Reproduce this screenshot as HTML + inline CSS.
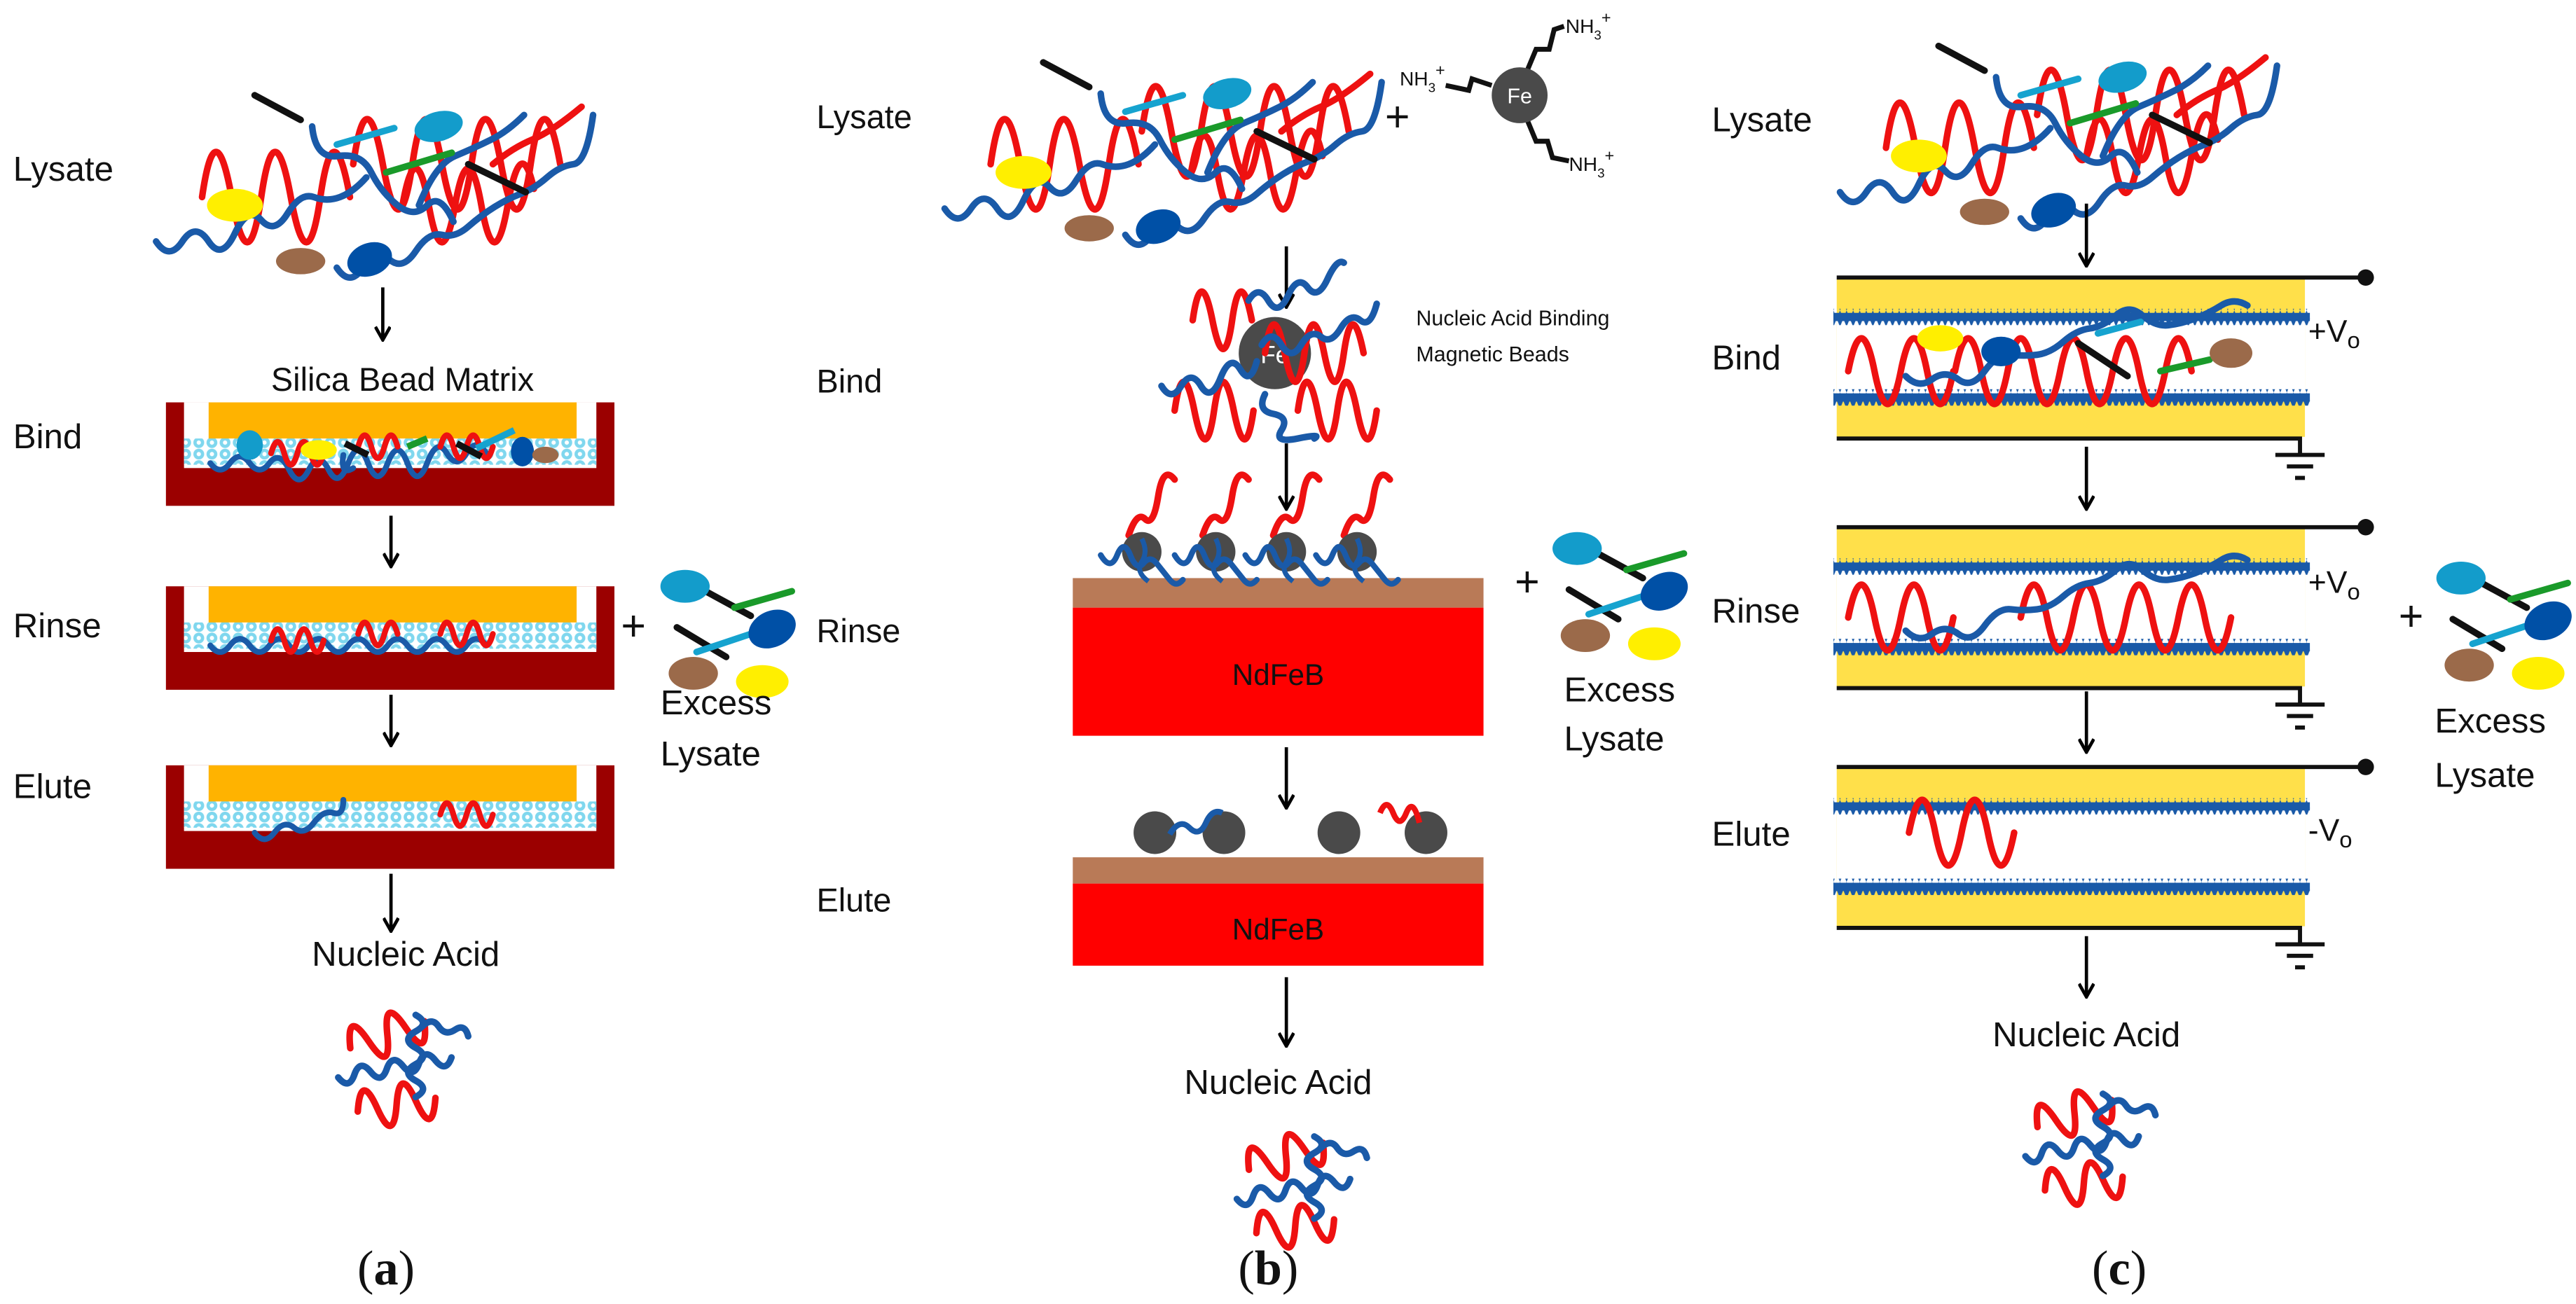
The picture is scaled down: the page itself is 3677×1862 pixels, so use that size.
<!DOCTYPE html>
<html><head><meta charset="utf-8"><style>
html,body{margin:0;padding:0;background:#fff}
svg{display:block}
text{font-family:"Liberation Sans",sans-serif;fill:#111}
</style></head><body>
<svg width="3677" height="1862" viewBox="0 0 1568 794" preserveAspectRatio="none" xmlns="http://www.w3.org/2000/svg">
<defs>
<marker id="ah" markerWidth="10" markerHeight="10" refX="9" refY="5" orient="auto" markerUnits="userSpaceOnUse">
<path d="M1,0.5 L9,5 L1,9.5" fill="none" stroke="#000" stroke-width="2"/>
</marker>
<pattern id="beads" width="8" height="7" patternUnits="userSpaceOnUse">
<rect width="8" height="7" fill="#fff"/>
<circle cx="4" cy="3.5" r="3.3" fill="#7fd7ee"/><circle cx="4" cy="3.5" r="1.3" fill="#fff"/>
</pattern>
<pattern id="zig" width="4" height="10" patternUnits="userSpaceOnUse">
<path d="M0,5 L2,0 L4,5 L2,10 Z" fill="#1a5aa8"/>
</pattern>
<g id="lys" fill="none" stroke-linecap="round" stroke-width="4">
<path d="M28,65 q8,-55 18,0 t18,0 t18,0 t18,0 t18,0" stroke="#ee1111"/>
<path d="M120,45 q8,-55 18,0 t18,0 t18,0 t18,0 t18,0 t18,0 t18,0" stroke="#ee1111"/>
<path d="M150,70 q8,-45 16,0 t16,0 t16,0 t16,0 t16,-10" stroke="#ee1111"/>
<path d="M205,45 q12,-10 24,-15 t30,-20" stroke="#ee1111"/>
<path d="M0,92 q8,12 16,0 t16,0 t16,-5 t16,-8 t16,-4 t16,-10 t16,0 t16,-12" stroke="#1a5aa8"/>
<path d="M110,108 q8,12 16,0 t16,-5 t16,-5 t16,-10 t16,-5 t16,-12 t16,-8 t16,-10 t16,-8 t12,-30" stroke="#1a5aa8"/>
<path d="M95,22 q2,20 16,18 t20,10 t16,20 t18,0 t16,10" stroke="#1a5aa8"/>
<path d="M160,70 q10,-25 22,-30 t22,-10 t20,-15" stroke="#1a5aa8"/>
<line x1="60" y1="3" x2="88" y2="18" stroke="#111"/>
<line x1="110" y1="33" x2="145" y2="23" stroke="#16a3cf"/>
<line x1="140" y1="50" x2="180" y2="38" stroke="#1a9a2a"/>
<line x1="190" y1="45" x2="225" y2="62" stroke="#111"/>
<ellipse cx="172" cy="22" rx="15" ry="9" fill="#139ccb" stroke="none" transform="rotate(-15 172 22)"/>
<ellipse cx="48" cy="70" rx="17" ry="10" fill="#ffef00" stroke="none"/>
<ellipse cx="88" cy="104" rx="15" ry="8" fill="#9b6a4a" stroke="none"/>
<ellipse cx="130" cy="103" rx="14" ry="10" fill="#0050a6" stroke="none" transform="rotate(-20 130 103)"/>
</g>
<g id="excess" stroke-width="4" stroke-linecap="round">
<line x1="22" y1="12" x2="55" y2="30" stroke="#111"/>
<line x1="45" y1="25" x2="80" y2="15" stroke="#1a9a2a"/>
<line x1="10" y1="37" x2="40" y2="55" stroke="#111"/>
<line x1="22" y1="52" x2="58" y2="40" stroke="#16a3cf"/>
<ellipse cx="15" cy="12" rx="15" ry="10" fill="#139ccb" stroke="none"/>
<ellipse cx="68" cy="38" rx="15" ry="11" fill="#0050a6" stroke="none" transform="rotate(-25 68 38)"/>
<ellipse cx="20" cy="65" rx="15" ry="10" fill="#9b6a4a" stroke="none"/>
<ellipse cx="62" cy="70" rx="16" ry="10" fill="#ffef00" stroke="none"/>
</g>
<g id="na" fill="none" stroke-width="4" stroke-linecap="round">
<path d="M5,30 q6,-24 12,0 t12,0 t12,0 t12,0" stroke="#ee1111" transform="rotate(-20 30 25)"/>
<path d="M12,72 q6,-24 12,0 t12,0 t12,0 t12,0" stroke="#ee1111" transform="rotate(-10 40 70)"/>
<path d="M0,50 q5,9 10,0 t10,0 t10,0 t10,0 t10,0 t10,0 t10,0" stroke="#1a5aa8" transform="rotate(-10 35 48)"/>
<path d="M48,18 q9,5 0,10 t0,10 t0,10 t0,10 t0,10" stroke="#1a5aa8"/>
<path d="M52,25 q6,-6 10,0 t10,2 t8,4" stroke="#1a5aa8"/>
</g>
<g id="box">
<rect x="0" y="0" width="273" height="63" fill="#9b0000"/>
<rect x="11" y="0" width="251" height="40" fill="#fff"/>
<rect x="26" y="0" width="224" height="24" fill="#ffb300"/>
<rect x="11" y="22" width="251" height="16" fill="url(#beads)"/>
</g>
<g id="elec">
<rect x="0" y="1" width="285" height="96" fill="#ffe04a"/>
<rect x="0" y="25" width="285" height="46" fill="#fff"/>
<rect x="-2" y="19" width="290" height="10" fill="url(#zig)"/>
<rect x="-2" y="21.5" width="290" height="5" fill="#1a5aa8"/>
<rect x="-2" y="68" width="290" height="10" fill="url(#zig)"/>
<rect x="-2" y="70.5" width="290" height="5" fill="#1a5aa8"/>
<line x1="0" y1="0" x2="322" y2="0" stroke="#111" stroke-width="2.5"/>
<circle cx="322" cy="0" r="5" fill="#111"/>
<polyline points="0,98 282,98 282,107" fill="none" stroke="#111" stroke-width="2.5"/>
<line x1="267" y1="108" x2="297" y2="108" stroke="#111" stroke-width="2.5"/>
<line x1="274" y1="115" x2="290" y2="115" stroke="#111" stroke-width="2.5"/>
<line x1="279" y1="122" x2="285" y2="122" stroke="#111" stroke-width="2.5"/>
</g>
<g id="mb">
<path d="M-8,-2 q5,-15 10,-10 t8,-14 t10,-10" fill="none" stroke="#ee1111" stroke-width="4" stroke-linecap="round" transform="translate(0,-8)"/>
<circle cx="0" cy="0" r="12" fill="#4a4a4a"/>
<path d="M-25,2 q6,10 10,0 t8,0 t8,5 t8,0 t8,10 t8,0" fill="none" stroke="#1a5aa8" stroke-width="3.5" stroke-linecap="round"/>
<path d="M0,-8 q4,8 0,14 t4,12" fill="none" stroke="#1a5aa8" stroke-width="3"/>
</g>
</defs>

<!-- Panel a -->
<text x="8" y="110" font-size="21">Lysate</text>
<use href="#lys" transform="translate(95,55)"/>
<line x1="233" y1="175" x2="233" y2="207" stroke="#000" stroke-width="2" marker-end="url(#ah)"/>
<text x="245" y="238" font-size="20" text-anchor="middle">Silica Bead Matrix</text>
<text x="8" y="273" font-size="21">Bind</text>
<use href="#box" transform="translate(101,245)"/>
<g fill="none" stroke-width="3.5" stroke-linecap="round">
<path d="M215,285 q-8,5 -6,-8 M128,282 q6,8 12,0 t12,0 t12,0 t12,4 t12,0 t12,0 t12,-4 t12,0 t12,0 t12,0 t12,0 t12,-6 t12,0 t12,0" stroke="#1a5aa8"/>
<path d="M165,276 q4,-14 8,0 t8,0 t8,0 t8,0 M218,272 q4,-14 8,0 t8,0 t8,0 M268,272 q4,-14 8,0 t8,0 t8,0 t8,0" stroke="#ee1111"/>
</g>
<ellipse cx="152" cy="271" rx="8" ry="9" fill="#139ccb"/><ellipse cx="194" cy="274" rx="11" ry="6" fill="#ffef00"/>
<ellipse cx="318" cy="275" rx="7" ry="9" fill="#0050a6"/><ellipse cx="332" cy="277" rx="8" ry="5" fill="#9b6a4a"/>
<line x1="210" y1="270" x2="224" y2="277" stroke="#111" stroke-width="4"/><line x1="248" y1="272" x2="260" y2="267" stroke="#1a9a2a" stroke-width="4"/>
<line x1="278" y1="270" x2="293" y2="278" stroke="#111" stroke-width="4"/><line x1="290" y1="273" x2="313" y2="262" stroke="#16a3cf" stroke-width="4"/>
<line x1="238" y1="314" x2="238" y2="345" stroke="#000" stroke-width="2" marker-end="url(#ah)"/>
<text x="8" y="388" font-size="21">Rinse</text>
<use href="#box" transform="translate(101,357)"/>
<g fill="none" stroke-width="3.5" stroke-linecap="round">
<path d="M128,393 q6,8 12,0 t12,0 t12,0 t12,0 t12,0 t12,0 t12,0 t12,0 t12,0 t12,0 t12,0 t12,0 t12,0 t12,0" stroke="#1a5aa8"/>
<path d="M165,390 q4,-14 8,0 t8,0 t8,0 t8,0 M218,386 q4,-14 8,0 t8,0 t8,0 M268,386 q4,-14 8,0 t8,0 t8,0 t8,0" stroke="#ee1111"/>
</g>
<line x1="238" y1="423" x2="238" y2="454" stroke="#000" stroke-width="2" marker-end="url(#ah)"/>
<text x="378" y="390" font-size="26">+</text>
<use href="#excess" transform="translate(402,345)"/>
<text x="402" y="435" font-size="21">Excess</text>
<text x="402" y="466" font-size="21">Lysate</text>
<text x="8" y="486" font-size="21">Elute</text>
<use href="#box" transform="translate(101,466)"/>
<g fill="none" stroke-width="3.5" stroke-linecap="round">
<path d="M155,507 q6,8 12,0 t12,-3 t12,-3 t12,-6 t6,-8" stroke="#1a5aa8"/>
<path d="M268,496 q4,-14 8,0 t8,0 t8,0 t8,0" stroke="#ee1111"/>
</g>
<line x1="238" y1="532" x2="238" y2="567" stroke="#000" stroke-width="2" marker-end="url(#ah)"/>
<text x="247" y="588" font-size="21" text-anchor="middle">Nucleic Acid</text>
<use href="#na" transform="translate(205,600)"/>
<text x="235" y="782" font-size="30" text-anchor="middle" style="font-family:'Liberation Serif',serif">(<tspan font-weight="bold">a</tspan>)</text>

<!-- Panel b -->
<text x="497" y="78" font-size="20">Lysate</text>
<use href="#lys" transform="translate(575,35)"/>
<text x="843" y="80" font-size="26">+</text>
<g stroke="#111" stroke-width="3" fill="none">
<polyline points="908,52 896,48 894,55 880,52"/>
<polyline points="930,42 935,30 943,30 946,18 952,16"/>
<polyline points="930,74 935,86 942,86 945,96 955,98"/>
</g>
<circle cx="925" cy="58" r="17" fill="#4a4a4a"/>
<text x="925" y="63" font-size="13" text-anchor="middle" style="fill:#fff">Fe</text>
<text x="852" y="52" font-size="12">NH<tspan font-size="8" dy="4">3</tspan><tspan font-size="10" dy="-10">+</tspan></text>
<text x="953" y="20" font-size="12">NH<tspan font-size="8" dy="4">3</tspan><tspan font-size="10" dy="-10">+</tspan></text>
<text x="955" y="104" font-size="12">NH<tspan font-size="8" dy="4">3</tspan><tspan font-size="10" dy="-10">+</tspan></text>
<line x1="783" y1="150" x2="783" y2="187" stroke="#000" stroke-width="2" marker-end="url(#ah)"/>
<text x="497" y="239" font-size="20">Bind</text>
<circle cx="776" cy="215" r="22" fill="#4a4a4a"/>
<text x="776" y="221" font-size="15" text-anchor="middle" style="fill:#fff">Fe</text>
<g fill="none" stroke-width="4" stroke-linecap="round">
<path d="M726,195 q5,-35 12,0 t12,0 t12,0" stroke="#ee1111"/>
<path d="M770,215 q5,-35 12,0 t12,0 t12,0 t12,0 t12,0" stroke="#ee1111"/>
<path d="M715,250 q5,-35 12,0 t12,0 t12,0 t12,0" stroke="#ee1111"/>
<path d="M790,250 q5,-35 12,0 t12,0 t12,0 t12,0" stroke="#ee1111"/>
<path d="M760,183 q6,-10 12,0 t12,-3 t12,-5 t12,-5 t10,-10" stroke="#1a5aa8"/>
<path d="M768,210 q6,-10 12,0 t12,0 t12,-5 t12,-5 t12,-5 t10,-10" stroke="#1a5aa8"/>
<path d="M707,235 q6,10 12,0 t12,0 t12,-5 t12,-5 t10,-5" stroke="#1a5aa8"/>
<path d="M770,240 q-5,10 5,12 t5,10 t10,5 t10,0" stroke="#1a5aa8"/>
</g>
<text x="862" y="198" font-size="13">Nucleic Acid Binding</text>
<text x="862" y="220" font-size="13">Magnetic Beads</text>
<line x1="783" y1="270" x2="783" y2="310" stroke="#000" stroke-width="2" marker-end="url(#ah)"/>
<text x="497" y="391" font-size="20">Rinse</text>
<rect x="653" y="352" width="250" height="18" fill="#b97a57"/>
<rect x="653" y="370" width="250" height="78" fill="#ff0000"/>
<text x="778" y="417" font-size="18" text-anchor="middle">NdFeB</text>
<use href="#mb" transform="translate(695,336)"/>
<use href="#mb" transform="translate(740,336)"/>
<use href="#mb" transform="translate(783,336)"/>
<use href="#mb" transform="translate(826,336)"/>
<text x="922" y="363" font-size="26">+</text>
<use href="#excess" transform="translate(945,322)"/>
<text x="952" y="427" font-size="21">Excess</text>
<text x="952" y="457" font-size="21">Lysate</text>
<line x1="783" y1="455" x2="783" y2="492" stroke="#000" stroke-width="2" marker-end="url(#ah)"/>
<text x="497" y="555" font-size="20">Elute</text>
<circle cx="703" cy="507" r="13" fill="#4a4a4a"/><circle cx="745" cy="507" r="13" fill="#4a4a4a"/>
<circle cx="815" cy="507" r="13" fill="#4a4a4a"/><circle cx="868" cy="507" r="13" fill="#4a4a4a"/>
<path d="M712,508 q6,-10 12,-4 t10,-3 t10,-6" fill="none" stroke="#1a5aa8" stroke-width="3.5"/>
<path d="M840,495 q4,-10 8,0 t8,0 t8,6" fill="none" stroke="#ee1111" stroke-width="3.5"/>
<rect x="653" y="522" width="250" height="16" fill="#b97a57"/>
<rect x="653" y="538" width="250" height="50" fill="#ff0000"/>
<text x="778" y="572" font-size="18" text-anchor="middle">NdFeB</text>
<line x1="783" y1="595" x2="783" y2="637" stroke="#000" stroke-width="2" marker-end="url(#ah)"/>
<text x="778" y="666" font-size="21" text-anchor="middle">Nucleic Acid</text>
<use href="#na" transform="translate(752,674)"/>
<text x="772" y="782" font-size="30" text-anchor="middle" style="font-family:'Liberation Serif',serif">(<tspan font-weight="bold">b</tspan>)</text>

<!-- Panel c -->
<text x="1042" y="80" font-size="21">Lysate</text>
<use href="#lys" transform="translate(1120,25)"/>
<line x1="1270" y1="124" x2="1270" y2="162" stroke="#000" stroke-width="2" marker-end="url(#ah)"/>
<use href="#elec" transform="translate(1118,169)"/>
<g fill="none" stroke-width="4" stroke-linecap="round">
<path d="M1125,226 q8,-40 16,0 t16,0 t16,0 t16,0" stroke="#ee1111"/>
<path d="M1190,226 q8,-40 16,0 t16,0 t16,0 t16,0 t16,0 t16,0 t16,0 t16,0 t16,0" stroke="#ee1111"/>
<path d="M1160,229 q8,8 16,2 t16,0 t16,-5 t16,-10 t16,0 t16,-8 t16,-8 t16,-8 t16,0 t16,6 t16,-4 t16,-8 t16,0" stroke="#1a5aa8"/>
<line x1="1265" y1="209" x2="1295" y2="229" stroke="#111"/>
<line x1="1277" y1="203" x2="1303" y2="196" stroke="#16a3cf"/>
<line x1="1315" y1="226" x2="1345" y2="219" stroke="#1a9a2a"/>
</g>
<ellipse cx="1181" cy="206" rx="14" ry="8" fill="#ffef00"/>
<ellipse cx="1218" cy="214" rx="12" ry="9" fill="#0050a6"/>
<ellipse cx="1358" cy="215" rx="13" ry="9" fill="#9b6a4a"/>
<text x="1042" y="225" font-size="21">Bind</text>
<text x="1405" y="208" font-size="19">+V<tspan font-size="14" dy="4">o</tspan></text>
<line x1="1270" y1="272" x2="1270" y2="310" stroke="#000" stroke-width="2" marker-end="url(#ah)"/>
<use href="#elec" transform="translate(1118,321)"/>
<g fill="none" stroke-width="4" stroke-linecap="round">
<path d="M1125,376 q8,-40 16,0 t16,0 t16,0 t16,0" stroke="#ee1111"/>
<path d="M1230,376 q8,-40 16,0 t16,0 t16,0 t16,0 t16,0 t16,0 t16,0 t16,0" stroke="#ee1111"/>
<path d="M1160,384 q8,8 16,2 t16,0 t16,-5 t16,-10 t16,0 t16,-8 t16,-8 t16,-8 t16,0 t16,6 t16,-4 t16,-8 t16,0" stroke="#1a5aa8"/>
</g>
<text x="1042" y="379" font-size="21">Rinse</text>
<text x="1405" y="361" font-size="19">+V<tspan font-size="14" dy="4">o</tspan></text>
<line x1="1270" y1="421" x2="1270" y2="458" stroke="#000" stroke-width="2" marker-end="url(#ah)"/>
<use href="#elec" transform="translate(1118,467)"/>
<path d="M1162,507 q8,-40 16,0 t16,0 t16,0 t16,0" fill="none" stroke="#ee1111" stroke-width="4" stroke-linecap="round"/>
<text x="1042" y="515" font-size="21">Elute</text>
<text x="1405" y="512" font-size="19">-V<tspan font-size="14" dy="4">o</tspan></text>
<text x="1460" y="384" font-size="26">+</text>
<use href="#excess" transform="translate(1483,340)"/>
<text x="1482" y="446" font-size="21">Excess</text>
<text x="1482" y="479" font-size="21">Lysate</text>
<line x1="1270" y1="570" x2="1270" y2="607" stroke="#000" stroke-width="2" marker-end="url(#ah)"/>
<text x="1270" y="637" font-size="21" text-anchor="middle">Nucleic Acid</text>
<use href="#na" transform="translate(1232,648)"/>
<text x="1290" y="782" font-size="30" text-anchor="middle" style="font-family:'Liberation Serif',serif">(<tspan font-weight="bold">c</tspan>)</text>
</svg>
</body></html>
